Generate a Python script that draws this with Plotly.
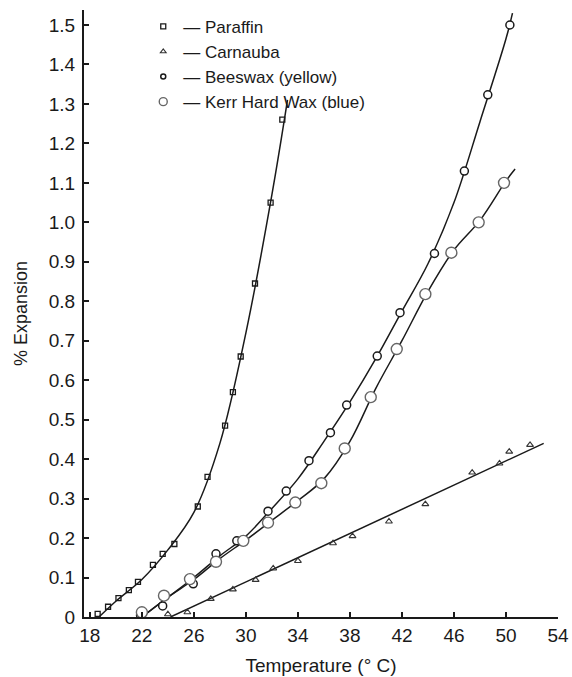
import plotly.graph_objects as go

# ---- measured data points ----
paraffin_x = [18.6, 19.4, 20.2, 21.0, 21.7, 22.85, 23.6, 24.5, 26.3, 27.05, 28.4, 29.0, 29.6, 30.7, 31.9, 32.8]
paraffin_y = [0.008, 0.026, 0.048, 0.068, 0.089, 0.132, 0.16, 0.185, 0.28, 0.355, 0.485, 0.57, 0.66, 0.845, 1.05, 1.26]

carnauba_x = [24.0, 25.5, 27.3, 29.0, 30.75, 32.1, 34.0, 36.7, 38.2, 41.0, 43.8, 47.4, 49.5, 50.25, 51.85]
carnauba_y = [0.007, 0.012, 0.046, 0.07, 0.094, 0.123, 0.142, 0.187, 0.205, 0.242, 0.286, 0.366, 0.389, 0.419, 0.436]

beeswax_x = [21.9, 23.6, 25.95, 27.7, 29.3, 31.7, 33.1, 34.85, 36.5, 37.75, 40.1, 41.85, 44.5, 46.8, 48.6, 50.3]
beeswax_y = [0.005, 0.028, 0.084, 0.16, 0.193, 0.268, 0.319, 0.396, 0.467, 0.537, 0.661, 0.771, 0.921, 1.13, 1.323, 1.50]

kerr_x = [22.0, 23.7, 25.7, 27.7, 29.8, 31.7, 33.8, 35.8, 37.6, 39.6, 41.6, 43.8, 45.8, 47.9, 49.85]
kerr_y = [0.012, 0.054, 0.096, 0.14, 0.193, 0.239, 0.29, 0.339, 0.427, 0.557, 0.679, 0.818, 0.923, 1.0, 1.10]

# ---- fitted curves ----
paraffin_fit_x = [18.7, 20, 22, 24, 26, 28, 30, 32, 33.2]
paraffin_fit_y = [0.0, 0.04, 0.095, 0.17, 0.265, 0.44, 0.72, 1.07, 1.31]

carnauba_fit_x = [24.2, 52.9]
carnauba_fit_y = [0.0, 0.44]

beeswax_fit_x = [22, 24, 26, 28, 30, 32, 34, 36, 38, 40, 42, 44, 46, 48, 50, 50.5]
beeswax_fit_y = [0.0, 0.05, 0.1, 0.155, 0.205, 0.275, 0.35, 0.445, 0.545, 0.655, 0.775, 0.895, 1.05, 1.255, 1.465, 1.53]

kerr_fit_x = [22, 24, 26, 28, 30, 32, 34, 36, 38, 40, 42, 44, 46, 48, 50, 50.7]
kerr_fit_y = [0.0, 0.05, 0.095, 0.148, 0.195, 0.245, 0.295, 0.35, 0.445, 0.58, 0.70, 0.825, 0.93, 1.005, 1.105, 1.135]

x_ticks = [18, 22, 26, 30, 34, 38, 42, 46, 50, 54]
y_ticks = [0, 0.1, 0.2, 0.3, 0.4, 0.5, 0.6, 0.7, 0.8, 0.9, 1.0, 1.1, 1.2, 1.3, 1.4, 1.5]
y_tick_text = ["0", "0.1", "0.2", "0.3", "0.4", "0.5", "0.6", "0.7", "0.8", "0.9", "1.0", "1.1", "1.2", "1.3", "1.4", "1.5"]

FONT = "Liberation Sans, Arial, sans-serif"
INK = "#1a1a1a"

series = [
    ("Paraffin", paraffin_x, paraffin_y, paraffin_fit_x, paraffin_fit_y,
     dict(symbol="square-open", size=5, color=INK, line=dict(width=1.3, color=INK))),
    ("Carnauba", carnauba_x, carnauba_y, carnauba_fit_x, carnauba_fit_y,
     dict(symbol="triangle-up-open", size=6, color="#333", line=dict(width=1.1, color="#333"))),
    ("Beeswax (yellow)", beeswax_x, beeswax_y, beeswax_fit_x, beeswax_fit_y,
     dict(symbol="circle", size=8, color="white", line=dict(width=1.5, color=INK))),
    ("Kerr Hard Wax (blue)", kerr_x, kerr_y, kerr_fit_x, kerr_fit_y,
     dict(symbol="circle", size=11, color="white", line=dict(width=1.4, color="#666"))),
]

fig = go.Figure()
for name, px, py, fx, fy, mk in series:
    fig.add_trace(go.Scatter(x=fx, y=fy, mode="lines",
                             line=dict(color=INK, width=1.5, shape="spline", smoothing=1.0),
                             showlegend=False, hoverinfo="skip"))
for name, px, py, fx, fy, mk in series:
    fig.add_trace(go.Scatter(x=px, y=py, mode="markers", marker=mk, name=name, showlegend=False))
    lm = dict(mk)
    lm["size"] = max(5, mk["size"] - 3)
    lm["color"] = "white" if "open" not in mk["symbol"] else mk["color"]
    fig.add_trace(go.Scatter(x=[None], y=[None], mode="markers", marker=lm,
                             name="\u2014 " + name, legendgroup=name, showlegend=True))

fig.update_layout(
    width=572, height=677,
    margin=dict(l=84, r=14, t=10, b=60, autoexpand=False),
    paper_bgcolor="white", plot_bgcolor="white",
    font=dict(family=FONT, size=18, color=INK),
    showlegend=True,
    legend=dict(x=0.125, y=1.002, xanchor="left", yanchor="top", bgcolor="rgba(0,0,0,0)",
                font=dict(size=17, color=INK), tracegroupgap=0, itemsizing="trace"),
    xaxis=dict(range=[17.55, 54.0], tickvals=x_ticks, ticks="inside", ticklen=5, tickwidth=1.5,
               tickcolor=INK, showline=True, linecolor=INK, linewidth=2, showgrid=False, zeroline=False,
               automargin=False,
               tickfont=dict(size=19), title=dict(text="Temperature (\u00b0 C)", font=dict(size=19), standoff=14)),
    yaxis=dict(range=[0, 1.538], tickvals=y_ticks, ticktext=y_tick_text, ticks="inside", ticklen=5,
               tickwidth=1.5, tickcolor=INK, showline=True, linecolor=INK, linewidth=2, showgrid=False,
               zeroline=False, ticklabelstandoff=3, tickfont=dict(size=19), automargin=False,
               title=dict(text="% Expansion", font=dict(size=18), standoff=16)),
)

fig.write_html("out.html")
